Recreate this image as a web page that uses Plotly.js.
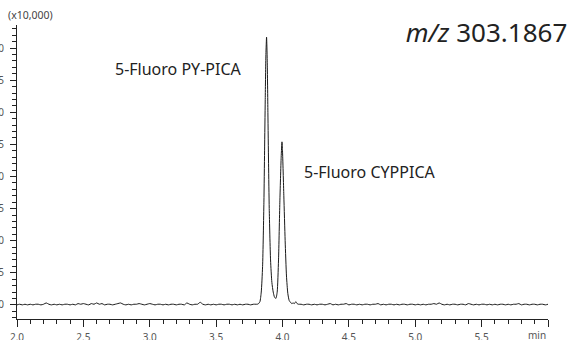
<!DOCTYPE html>
<html>
<head>
<meta charset="utf-8">
<script src="https://cdn.plot.ly/plotly-3.0.1.min.js"></script>
<style>html,body{margin:0;padding:0;background:#fff;}#chart{width:569px;height:340px;}</style>
</head>
<body>
<div id="chart"></div>
<script>
// Retention time (min)
var baseTimesA = [2.00,2.02,2.04,2.06,2.08,2.10,2.12,2.14,2.16,2.18,2.20,2.22,2.24,2.26,2.28,2.30,2.32,2.34,2.36,2.38,2.40,2.42,2.44,2.46,2.48,2.50,2.52,2.54,2.56,2.58,2.60,2.62,2.64,2.66,2.68,2.70,2.72,2.74,2.76,2.78,2.80,2.82,2.84,2.86,2.88,2.90,2.92,2.94,2.96,2.98,3.00,3.02,3.04,3.06,3.08,3.10,3.12,3.14,3.16,3.18,3.20,3.22,3.24,3.26,3.28,3.30,3.32,3.34,3.36,3.38,3.40,3.42,3.44,3.46,3.48,3.50,3.52,3.54,3.56,3.58,3.60,3.62,3.64,3.66,3.68,3.70,3.72,3.74,3.76,3.78];
var baseIntA  = [0.00,0.01,0.00,0.01,0.00,0.01,0.00,0.01,0.01,0.00,0.01,0.03,0.01,0.00,0.01,0.00,0.01,0.00,0.01,0.01,0.00,0.01,0.00,0.02,0.01,0.02,0.01,0.00,0.02,0.01,0.03,0.01,0.02,0.00,0.01,0.01,0.00,0.01,0.02,0.03,0.01,0.00,0.01,0.00,0.01,0.01,0.02,0.01,0.00,0.01,0.02,0.01,0.00,0.01,0.01,0.00,0.01,0.00,0.01,0.01,0.00,0.01,0.01,0.00,0.03,0.01,0.00,0.01,0.01,0.04,0.01,0.00,0.01,0.00,0.01,0.00,0.01,0.01,0.00,0.01,0.01,0.00,0.01,0.00,0.01,0.00,0.01,0.01,0.00,0.01];
var peakTimes  = [3.80,3.81,3.82,3.83,3.84,3.85,3.86,3.865,3.87,3.875,3.88,3.885,3.89,3.895,3.90,3.91,3.92,3.93,3.94,3.95,3.96,3.97,3.98,3.99,3.996,4.00,4.01,4.02,4.03,4.04,4.05,4.06,4.07,4.08,4.09,4.10,4.11,4.12];
var peakInt    = [0.01,0.01,0.02,0.05,0.20,0.60,1.60,2.40,3.20,3.90,4.17,3.80,3.00,2.20,1.50,0.70,0.35,0.20,0.12,0.10,0.20,0.70,1.60,2.30,2.54,2.40,1.70,1.00,0.45,0.18,0.07,0.04,0.02,0.03,0.02,0.05,0.02,0.01];
var baseTimesB = [4.14,4.16,4.18,4.20,4.22,4.24,4.26,4.28,4.30,4.32,4.34,4.36,4.38,4.40,4.42,4.44,4.46,4.48,4.50,4.52,4.54,4.56,4.58,4.60,4.62,4.64,4.66,4.68,4.70,4.72,4.74,4.76,4.78,4.80,4.82,4.84,4.86,4.88,4.90,4.92,4.94,4.96,4.98,5.00,5.02,5.04,5.06,5.08,5.10,5.12,5.14,5.16,5.18,5.20,5.22,5.24,5.26,5.28,5.30,5.32,5.34,5.36,5.38,5.40,5.42,5.44,5.46,5.48,5.50,5.52,5.54,5.56,5.58,5.60,5.62,5.64,5.66,5.68,5.70,5.72,5.74,5.76,5.78,5.80,5.82,5.84,5.86,5.88,5.90,5.92,5.94,5.96,5.98,6.00];
var baseIntB  = [0.01,0.00,0.01,0.01,0.00,0.01,0.00,0.01,0.01,0.00,0.01,0.02,0.00,0.01,0.00,0.01,0.01,0.02,0.00,0.01,0.01,0.00,0.01,0.00,0.01,0.01,0.00,0.01,0.01,0.02,0.00,0.01,0.00,0.01,0.01,0.00,0.01,0.00,0.01,0.01,0.00,0.01,0.01,0.00,0.01,0.00,0.01,0.00,0.01,0.01,0.02,0.01,0.03,0.01,0.00,0.01,0.00,0.01,0.01,0.00,0.01,0.01,0.00,0.02,0.01,0.00,0.01,0.00,0.01,0.01,0.00,0.01,0.00,0.01,0.00,0.01,0.01,0.00,0.01,0.00,0.01,0.01,0.02,0.00,0.01,0.01,0.00,0.01,0.01,0.00,0.01,0.01,0.00,0.01];

var xTickVals = [2.0,2.5,3.0,3.5,4.0,4.5,5.0,5.5,6.0];
var xTickText = ["2.0","2.5","3.0","3.5","4.0","4.5","5.0","5.5",""];
var yTickVals = [0,0.5,1.0,1.5,2.0,2.5,3.0,3.5,4.0];
var yTickText = ["0.0","0.5","1.0","1.5","2.0","2.5","3.0","3.5","4.0"];

var titleText = "<i>m/z</i> 303.1867";
var peakLabels = ["5-Fluoro PY-PICA","5-Fluoro CYPPICA"];
var peakLabelX = [3.213,4.652];
var peakLabelY = [3.68,2.07];

var times = baseTimesA.concat(peakTimes, baseTimesB);
var ints = baseIntA.concat(peakInt, baseIntB);

var trace = {
  x: times, y: ints, type: 'scatter', mode: 'lines',
  line: {color: '#1a1a1a', width: 1, shape: 'spline', smoothing: 0.6},
  hoverinfo: 'skip'
};

var FONT = 'Noto Sans, sans-serif';
var tickFont = {family: FONT, size: 10, color: '#555'};
var layout = {
  width: 569, height: 340,
  margin: {l: 17, r: 21, t: 25, b: 21, pad: 0},
  paper_bgcolor: '#fff', plot_bgcolor: '#fff',
  showlegend: false,
  title: {text: titleText, font: {family: FONT, size: 26, color: '#222'},
          xref: 'container', yref: 'container', x: 0.997, xanchor: 'right', y: 0.903, yanchor: 'middle'},
  xaxis: {
    range: [2, 6], showgrid: false, zeroline: false,
    showline: true, linecolor: '#222', linewidth: 1,
    tickmode: 'array', tickvals: xTickVals, ticktext: xTickText,
    ticks: 'outside', ticklen: 7, tickcolor: '#222', tickwidth: 1,
    ticklabelstandoff: 2,
    tickfont: tickFont,
    minor: {tickmode: 'linear', tick0: 2, dtick: 0.1, ticks: 'outside', ticklen: 4, tickcolor: '#222', showgrid: false}
  },
  yaxis: {
    range: [-0.22, 4.36], showgrid: false, zeroline: false,
    showline: true, linecolor: '#222', linewidth: 1,
    tickmode: 'array', tickvals: yTickVals, ticktext: yTickText,
    ticks: 'outside', ticklen: 6, tickcolor: '#222', tickwidth: 1,
    ticklabelstandoff: 4,
    tickfont: tickFont,
    minor: {tickmode: 'linear', tick0: 0, dtick: 0.1, ticks: 'outside', ticklen: 4, tickcolor: '#222', showgrid: false}
  },
  annotations: [
    {text: peakLabels[0], x: peakLabelX[0], y: peakLabelY[0], xref: 'x', yref: 'y', showarrow: false,
     xanchor: 'center', yanchor: 'middle', font: {family: FONT, size: 16, color: '#222'}},
    {text: peakLabels[1], x: peakLabelX[1], y: peakLabelY[1], xref: 'x', yref: 'y', showarrow: false,
     xanchor: 'center', yanchor: 'middle', font: {family: FONT, size: 16, color: '#222'}},
    {text: '(x10,000)', x: 0, y: 0, xref: 'paper', yref: 'paper', showarrow: false,
     xanchor: 'center', yanchor: 'middle', font: {family: FONT, size: 10.5, color: '#444'}},
    {text: 'min', x: 6, y: 0, xref: 'x', yref: 'paper', showarrow: false, xanchor: 'right', yanchor: 'top', yshift: -7,
     font: tickFont}
  ]
};
// place "(x10,000)" in pixel terms via paper coords
var plotW = 569 - 17 - 21, plotH = 340 - 25 - 21;
layout.annotations[2].x = (30 - 17) / plotW;
layout.annotations[2].y = (319 - 15) / plotH;

Plotly.newPlot('chart', [trace], layout, {displayModeBar: false, staticPlot: true});
</script>
</body>
</html>
